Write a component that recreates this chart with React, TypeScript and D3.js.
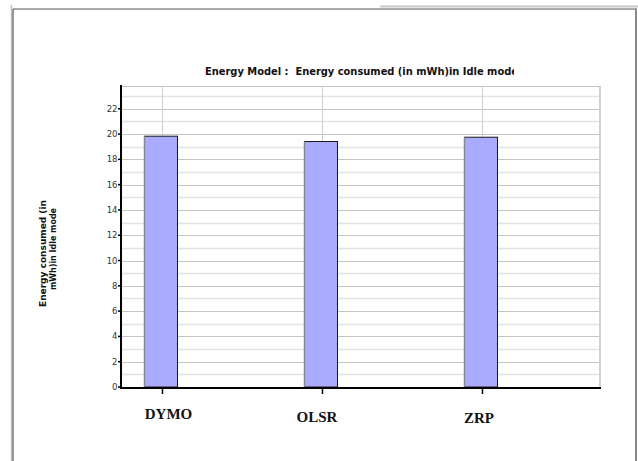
import React from "react";
import * as d3 from "d3";

const categories = ["DYMO", "OLSR", "ZRP"];
const values = [19.83, 19.41, 19.75];
const yTickLabels = [0, 2, 4, 6, 8, 10, 12, 14, 16, 18, 20, 22];
const title = "Energy Model :  Energy consumed (in mWh)in Idle mode";
const yTitleLines = ["Energy consumed (in", "mWh)in Idle mode"];

const W = 638;
const H = 461;
const plotL = 121;
const plotR = 600;
const plotT = 86;
const plotB = 387;

export default function App() {
  const y = d3.scaleLinear().domain([0, 23.8]).range([plotB, plotT]);
  const x = d3.scaleBand().domain(categories).range([82, 562]);
  const center = (c: string) => (x(c) as number) + x.bandwidth() / 2;
  const minor = d3.range(1, 24, 2);
  const barW = 33;
  const labelDx = [6.5, -5, -3];
  const labelDy = [419, 421.5, 422.5];
  const yTitleLen = [107, 82];
  const yTitleY = [253.5, 249];

  return (
    <svg
      width={W}
      height={H}
      style={{ position: "absolute", left: 0, top: 0, display: "block", background: "#fff" }}
    >
      <defs>
        <clipPath id="titleClip">
          <rect x={0} y={0} width={514} height={100} />
        </clipPath>
      </defs>
      {/* frame */}
      <line x1={380} x2={638} y1={6.5} y2={6.5} stroke="#c8c8c8" strokeWidth={2} />
      <line x1={11.5} x2={11.5} y1={5} y2={H} stroke="#c0c0c0" strokeWidth={1.5} />
      <line x1={13} x2={13} y1={9} y2={H} stroke="#555" strokeWidth={1.2} />
      <line x1={13} x2={637} y1={9} y2={9} stroke="#555" strokeWidth={1.2} />
      <line x1={636} x2={636} y1={9} y2={H} stroke="#888" strokeWidth={2} />

      {/* title */}
      <text
        x={205}
        y={74.5}
        fontFamily="'DejaVu Sans Condensed', 'DejaVu Sans', sans-serif"
        fontWeight="bold"
        fontSize={11}
        textLength={313}
        lengthAdjust="spacingAndGlyphs"
        fill="#111"
        style={{ whiteSpace: "pre" }}
        clipPath="url(#titleClip)"
      >
        {title}
      </text>

      {/* grid */}
      {minor.map((v) => (
        <line key={"m" + v} x1={plotL} x2={plotR} y1={Math.round(y(v)) + 0.5} y2={Math.round(y(v)) + 0.5} stroke="#e2e2e2" strokeWidth={1.5} />
      ))}
      {yTickLabels.map((v) => (
        <line key={"g" + v} x1={plotL} x2={plotR} y1={Math.round(y(v)) + 0.5} y2={Math.round(y(v)) + 0.5} stroke="#c4c4c4" strokeWidth={1} />
      ))}
      <line x1={plotL} x2={plotR} y1={plotT + 0.5} y2={plotT + 0.5} stroke="#c4c4c4" strokeWidth={1} />
      <line x1={plotR} x2={plotR} y1={plotT} y2={plotB} stroke="#d0d0d0" strokeWidth={2} />
      {categories.map((c) => (
        <line key={"v" + c} x1={Math.round(center(c)) + 0.5} x2={Math.round(center(c)) + 0.5} y1={plotT} y2={plotB} stroke="#cfcfcf" strokeWidth={1} />
      ))}

      {/* bars */}
      {categories.map((c, i) => {
        const bx = Math.round(center(c) - barW / 2 - 1.5) + 0.5;
        const top = y(values[i]);
        return (
          <g key={"b" + c}>
            <rect x={bx} y={top} width={barW} height={plotB - top} fill="#aaaaff" stroke="#1a1a1a" strokeWidth={1} />
            <line x1={bx} x2={bx} y1={top} y2={plotB} stroke="#888" strokeWidth={1.5} />
          </g>
        );
      })}

      {/* axes */}
      <line x1={plotL} x2={plotL} y1={plotT - 1} y2={plotB + 1} stroke="#000" strokeWidth={2} />
      <line x1={plotL - 1} x2={plotR + 1} y1={plotB + 1} y2={plotB + 1} stroke="#000" strokeWidth={2} />
      {yTickLabels.map((v) => (
        <g key={"t" + v}>
          <line x1={plotL - 3} x2={plotL} y1={y(v)} y2={y(v)} stroke="#000" strokeWidth={1.5} />
          <text
            x={plotL - 3.5}
            y={y(v) + 3}
            textAnchor="end"
            fontFamily="'DejaVu Sans', sans-serif"
            fontSize={8.5}
            fill="#333"
          >
            {v}
          </text>
        </g>
      ))}
      {categories.map((c, i) => (
        <g key={"x" + c}>
          <line x1={Math.round(center(c)) + 0.5} x2={Math.round(center(c)) + 0.5} y1={plotB + 1} y2={plotB + 7} stroke="#000" strokeWidth={1.5} />
          <text
            x={center(c) + labelDx[i]}
            y={labelDy[i]}
            textAnchor="middle"
            fontFamily="'Liberation Serif', serif"
            fontWeight="bold"
            fontSize={15}
            fill="#111"
          >
            {c}
          </text>
        </g>
      ))}

      {/* y title */}
      {yTitleLines.map((t, i) => (
        <text
          key={"yt" + i}
          transform={`translate(${46 + i * 9.5}, ${yTitleY[i]}) rotate(-90)`}
          textAnchor="middle"
          fontFamily="'DejaVu Sans Condensed', 'DejaVu Sans', sans-serif"
          fontWeight="bold"
          fontSize={9.5}
          textLength={yTitleLen[i]}
          lengthAdjust="spacingAndGlyphs"
          fill="#111"
        >
          {t}
        </text>
      ))}
    </svg>
  );
}
